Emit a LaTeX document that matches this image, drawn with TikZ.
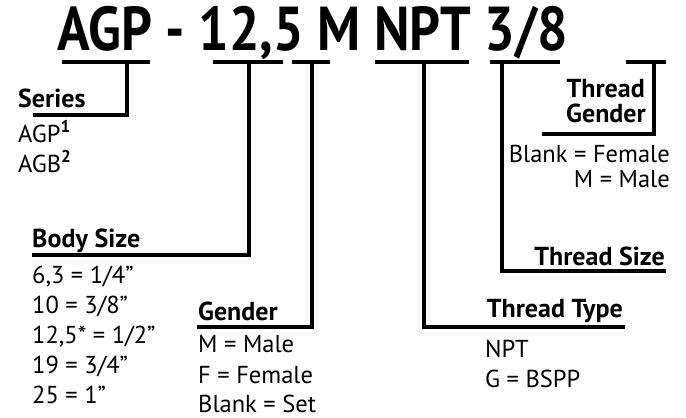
\documentclass[tikz,border=0pt]{standalone}
\usepackage{fontspec}
\setmainfont{PT Sans}
\newfontfamily\titlefont[FakeStretch=0.87]{PT Sans}
\begin{document}
\begin{tikzpicture}[x=1pt,y=-1pt,
  bar/.style={line width=4pt,line join=miter,line cap=butt},
  head/.style={font=\fontsize{26}{30}\selectfont\bfseries,inner sep=0pt},
  body/.style={font=\fontsize{24.5}{29}\selectfont,inner sep=0pt}]
\useasboundingbox (0,0) rectangle (686,418);
\node[anchor=base west,inner sep=0pt,font=\titlefont\fontsize{62}{66}\selectfont\bfseries] (title) at (57,50) {AGP - 12,5 M NPT 3/8};
% underlines
\coordinate (u1a) at (62,62);  \coordinate (u1b) at (150,62);
\coordinate (u2a) at (213,62); \coordinate (u2b) at (283,62);
\coordinate (u3a) at (292,62); \coordinate (u3b) at (330,62);
\coordinate (u4a) at (375,62); \coordinate (u4b) at (469,62);
\coordinate (u5a) at (490,62); \coordinate (u5b) at (560,62);
\coordinate (u6a) at (626,62); \coordinate (u6b) at (666,62);
\foreach \i in {1,...,6} \draw[bar] (u\i a) -- (u\i b);
% labels
\node[head,anchor=base west] (series) at (18,107) {Series};
\node[body,anchor=base west] (agp) at (18,142) {AGP\textsuperscript{\bfseries 1}};
\node[body,anchor=base west] (agb) at (18,172) {AGB\textsuperscript{\bfseries 2}};
\node[head,anchor=base west] (bodysize) at (32,247) {Body Size};
\node[body,anchor=base west] (b1) at (32,283) {6,3 = 1/4”};
\node[body,anchor=base west] (b2) at (32,313) {10 = 3/8”};
\node[body,anchor=base west] (b3) at (32,343) {12,5* = 1/2”};
\node[body,anchor=base west] (b4) at (32,373) {19 = 3/4”};
\node[body,anchor=base west] (b5) at (32,403) {25 = 1”};
\node[head,anchor=base west] (gender) at (198,320) {Gender};
\node[body,anchor=base west] (g1) at (198,352) {M = Male};
\node[body,anchor=base west] (g2) at (198,383) {F = Female};
\node[body,anchor=base west] (g3) at (198,412) {Blank = Set};
\node[head,anchor=base east] (ttype) at (623,317) {Thread Type};
\node[body,anchor=base west] (t1) at (485,357) {NPT};
\node[body,anchor=base west] (t2) at (485,387) {G = BSPP};
\node[head,anchor=base east] (tsize) at (665,265) {Thread Size};
\node[head,anchor=base east] (tg1) at (645,97) {Thread};
\node[head,anchor=base east] (tg2) at (646,122) {Gender};
\node[body,anchor=base east] (f1) at (670,162) {Blank = Female};
\node[body,anchor=base east] (f2) at (670,187) {M = Male};
% connectors
\draw[bar] (127,62) -- (127,115) -- (33,115);
\draw[bar] (249,62) -- (249,255) -- (32,255);
\draw[bar] (312,62) -- (312,327) -- (197,327);
\draw[bar] (424,62) -- (424,327) -- (625,327);
\draw[bar] (502,62) -- (502,271) -- (666,271);
\draw[bar] (654,62) -- (654,134) -- (542,134);
\end{tikzpicture}
\end{document}
